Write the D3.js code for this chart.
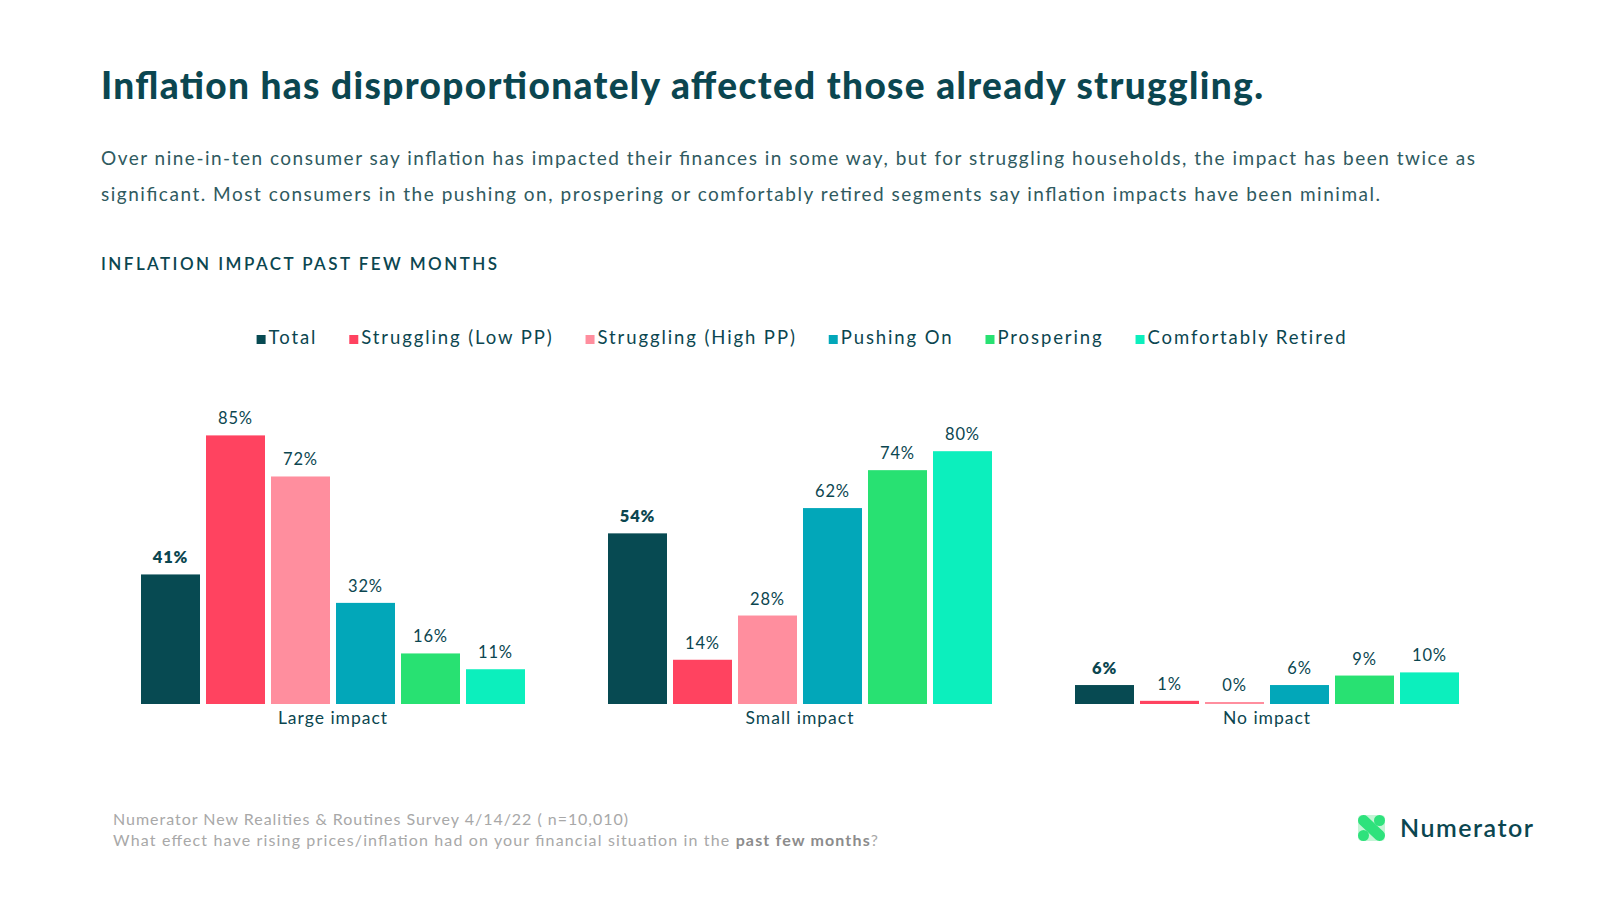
<!DOCTYPE html>
<html>
<head>
<meta charset="utf-8">
<script src="https://cdn.jsdelivr.net/npm/d3@7"></script>
<style>
  html, body { margin: 0; padding: 0; background: #fff; }
  svg { display: block; font-family: Lato, "Open Sans", sans-serif; }
</style>
</head>
<body>
<svg id="chart" width="1600" height="900"></svg>
<script>
// ── data ─────────────────────────────────────────────────────────────────────
const categories = ['Large impact', 'Small impact', 'No impact'];
const segments   = ['Total', 'Struggling (Low PP)', 'Struggling (High PP)', 'Pushing On', 'Prospering', 'Comfortably Retired'];

// one array per category, in segment order
const largeImpact = [41, 85, 72, 32, 16, 11];
const smallImpact = [54, 14, 28, 62, 74, 80];
const noImpact    = [6, 1, 0, 6, 9, 10];

const titleText    = 'Inflation has disproportionately affected those already struggling.';
const subtitleText = [
  'Over nine-in-ten consumer say inflation has impacted their finances in some way, but for struggling households, the impact has been twice as',
  'significant. Most consumers in the pushing on, prospering or comfortably retired segments say inflation impacts have been minimal.'
];
const sectionText = 'INFLATION IMPACT PAST FEW MONTHS';
const sourceText  = 'Numerator New Realities & Routines Survey 4/14/22 ( n=10,010)';

// ── setup ────────────────────────────────────────────────────────────────────
const svg = d3.select('#chart');
const ink   = '#0b4650';
const body  = '#2f5a60';
const grey  = '#a8a8a8';

const color = d3.scaleOrdinal()
  .domain(segments)
  .range(['#074a52', '#ff4360', '#ff8e9e', '#02a7b9', '#28e172', '#0cefbd']);

const rows = categories.map((c, i) => ({
  category: c,
  values: [largeImpact, smallImpact, noImpact][i].map((v, j) => ({ segment: segments[j], value: v }))
}));

// ── header texts ─────────────────────────────────────────────────────────────
svg.append('text')
  .attr('x', 101).attr('y', 99)
  .attr('fill', ink)
  .attr('font-size', 37).attr('font-weight', 900)
  .attr('textLength', 1162).attr('lengthAdjust', 'spacing')
  .text(titleText);

svg.selectAll('.sub')
  .data(subtitleText)
  .join('text')
  .attr('class', 'sub')
  .attr('x', 101).attr('y', (d, i) => 165 + i * 36)
  .attr('fill', body)
  .attr('font-size', 19)
  .attr('textLength', (d, i) => i === 0 ? 1374 : 1279)
  .attr('lengthAdjust', 'spacing')
  .text(d => d);

svg.append('text')
  .attr('x', 101).attr('y', 270)
  .attr('fill', ink)
  .attr('font-size', 17).attr('font-weight', 600)
  .attr('textLength', 396).attr('lengthAdjust', 'spacing')
  .text(sectionText);

// ── legend ───────────────────────────────────────────────────────────────────
const legend = svg.append('g').attr('transform', 'translate(0,344)');
const items = legend.selectAll('g')
  .data(segments)
  .join('g');

items.append('rect')
  .attr('y', -9).attr('width', 9).attr('height', 9)
  .attr('fill', d => color(d));

items.append('text')
  .attr('x', 12)
  .attr('fill', ink)
  .attr('font-size', 18.5)
  .attr('letter-spacing', 1.9)
  .text(d => d);

// lay the items out left to right, then centre the whole row on the plot
let cursor = 0;
items.each(function() {
  const w = this.querySelector('text').getComputedTextLength() + 12;
  d3.select(this).attr('transform', `translate(${cursor},0)`);
  cursor += w + 32;
});
const legendWidth = cursor - 32;
legend.attr('transform', `translate(${802 - legendWidth / 2},344)`);

// ── scales ───────────────────────────────────────────────────────────────────
const x0 = d3.scaleBand()
  .domain(categories)
  .range([141, 1459])
  .paddingInner(83 / 467);

const x1 = d3.scaleBand()
  .domain(segments)
  .range([0, x0.bandwidth()])
  .paddingInner(6 / 65);

const y = d3.scaleLinear()
  .domain([0, 100])
  .range([704, 388]);

// ── bars ─────────────────────────────────────────────────────────────────────
const groups = svg.append('g')
  .selectAll('g')
  .data(rows)
  .join('g')
  .attr('transform', d => `translate(${x0(d.category)},0)`);

groups.selectAll('rect')
  .data(d => d.values)
  .join('rect')
  .attr('x', d => x1(d.segment))
  .attr('width', x1.bandwidth())
  .attr('y', d => Math.min(y(d.value), y(0) - 2))
  .attr('height', d => Math.max(y(0) - y(d.value), 2))
  .attr('fill', d => color(d.segment));

groups.selectAll('text.val')
  .data(d => d.values)
  .join('text')
  .attr('class', 'val')
  .attr('x', d => x1(d.segment) + x1.bandwidth() / 2)
  .attr('y', d => Math.min(y(d.value), y(0) - 2) - 11)
  .attr('text-anchor', 'middle')
  .attr('fill', ink)
  .attr('font-size', 16.5)
  .attr('letter-spacing', 0.8)
  .attr('font-weight', d => d.segment === 'Total' ? 800 : 400)
  .text(d => d.value + '%');

// category axis, no line or ticks
const xAxis = svg.append('g')
  .attr('transform', `translate(0,${y(0)})`)
  .call(d3.axisBottom(x0).tickSize(0).tickPadding(8));
xAxis.select('.domain').remove();
xAxis.selectAll('text')
  .attr('fill', ink)
  .attr('font-family', 'Lato, sans-serif')
  .attr('font-size', 17.5)
  .attr('letter-spacing', 1);

// ── footer ───────────────────────────────────────────────────────────────────
svg.append('text')
  .attr('x', 113).attr('y', 825)
  .attr('fill', grey)
  .attr('font-size', 16)
  .attr('textLength', 515).attr('lengthAdjust', 'spacing')
  .text(sourceText);

const q = svg.append('text')
  .attr('x', 113).attr('y', 846)
  .attr('fill', grey)
  .attr('font-size', 16)
  .attr('textLength', 765).attr('lengthAdjust', 'spacing');
q.append('tspan').text('What effect have rising prices/inflation had on your financial situation in the ');
q.append('tspan').attr('font-weight', 700).attr('fill', '#8c8c8c').text('past few months');
q.append('tspan').text('?');

// ── logo ─────────────────────────────────────────────────────────────────────
const logo = svg.append('g').attr('transform', 'translate(1358,815)');
logo.append('rect').attr('x', 0).attr('y', 0).attr('width', 27).attr('height', 26).attr('rx', 4)
  .attr('fill', '#c4f5d6');
logo.append('line')
  .attr('x1', 5.5).attr('y1', 5.5).attr('x2', 21.5).attr('y2', 20.5)
  .attr('stroke', '#2ee27c').attr('stroke-width', 11).attr('stroke-linecap', 'round');
logo.append('circle').attr('cx', 21.5).attr('cy', 5.5).attr('r', 5.5).attr('fill', '#2ee27c');
logo.append('circle').attr('cx', 5.5).attr('cy', 20.5).attr('r', 5.5).attr('fill', '#2ee27c');

svg.append('text')
  .attr('x', 1400).attr('y', 837)
  .attr('fill', ink)
  .attr('font-size', 25).attr('font-weight', 600)
  .attr('textLength', 133).attr('lengthAdjust', 'spacing')
  .text('Numerator');
</script>
</body>
</html>
